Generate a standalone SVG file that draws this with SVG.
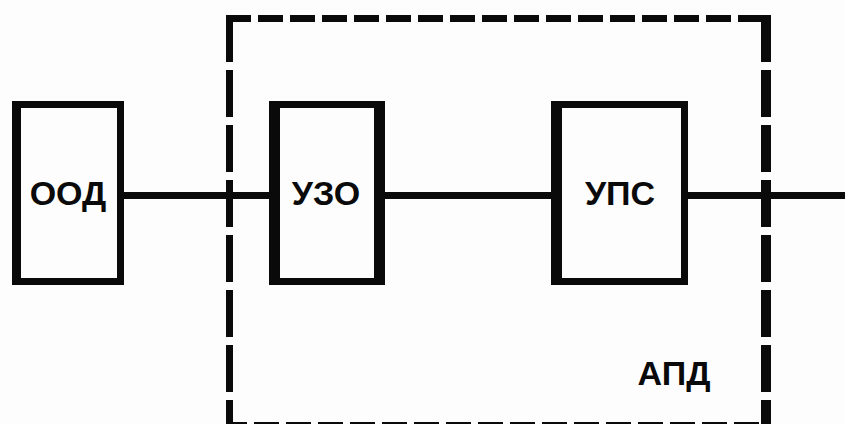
<svg xmlns="http://www.w3.org/2000/svg" width="845" height="424" viewBox="0 0 845 424">
<style>
.box{fill:none;stroke:#0a0a0a;stroke-width:7}
.vs{stroke:#0a0a0a;stroke-width:11}
.conn{stroke:#0a0a0a;stroke-width:7;fill:none}
.dh{stroke:#0a0a0a;stroke-width:7;stroke-dasharray:25 7;fill:none}
.dv{stroke:#0a0a0a;stroke-dasharray:47 8;fill:none}
.lbl{font-family:"Liberation Sans",Arial,sans-serif;font-weight:bold;font-size:34px;fill:#0a0a0a;text-anchor:middle}
</style>
<rect width="845" height="424" fill="#fdfdfd"/>
<g id="apd">
<line class="dh" x1="226" y1="18.5" x2="771" y2="18.5"/>
<line class="dh" x1="226" y1="425.5" x2="771" y2="425.5" stroke-dashoffset="4"/>
<line class="dv" stroke-width="7" x1="229.5" y1="15" x2="229.5" y2="424"/>
<line class="dv" stroke-width="10" x1="766" y1="15" x2="766" y2="424"/>
<text class="lbl" x="674" y="385">АПД</text>
</g>
<g id="connectors">
<line class="conn" x1="124" y1="195.5" x2="269" y2="195.5"/>
<line class="conn" x1="385" y1="195.5" x2="551" y2="195.5"/>
<line class="conn" x1="688" y1="195.5" x2="845" y2="195.5"/>
</g>
<g id="ood">
<rect class="box" x="15.5" y="104.5" width="105" height="177"/>
<line class="vs" x1="17" y1="101" x2="17" y2="285" stroke-width="8" style="stroke-width:8"/>
<text class="lbl" x="68" y="205">ООД</text>
</g>
<g id="uzo">
<rect class="box" x="272.5" y="104.5" width="109" height="177"/>
<line class="vs" x1="274.5" y1="101" x2="274.5" y2="285"/>
<line class="vs" x1="379.5" y1="101" x2="379.5" y2="285"/>
<text class="lbl" x="326" y="205">УЗО</text>
</g>
<g id="ups">
<rect class="box" x="554.5" y="104.5" width="130" height="177"/>
<line class="vs" x1="556.5" y1="101" x2="556.5" y2="285"/>
<text class="lbl" x="620" y="205">УПС</text>
</g>
</svg>
